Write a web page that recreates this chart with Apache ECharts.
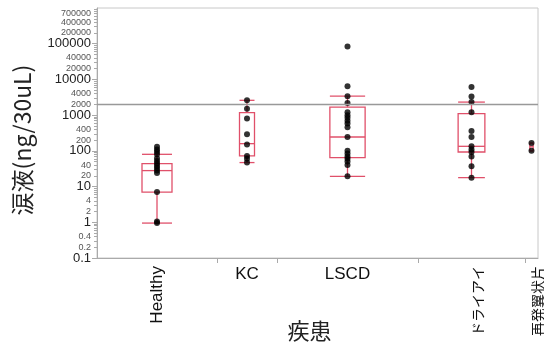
<!DOCTYPE html>
<html>
<head>
<meta charset="utf-8">
<script src="https://cdn.jsdelivr.net/npm/echarts@6/dist/echarts.min.js"></script>
<style>html,body{margin:0;padding:0;background:#fff}#c{width:544px;height:344px}</style>
</head>
<body>
<div id="c"></div>
<script>
// ---- data ----
var categories = ['Healthy', 'KC', 'LSCD', 'ドライアイ', '再発翼状片'];
var healthyValues = [130, 110, 95, 80, 62, 52, 44, 38, 33, 28, 24, 7, 1.05, 0.95];
var kcValues = [2600, 1500, 800, 290, 150, 72, 60, 47];
var lscdValues = [84000, 6400, 3400, 2200, 1200, 1000, 850, 700, 580, 460, 245, 100, 84, 70, 60, 50, 40, 19.4];
var dryEyeValues = [6100, 3350, 2320, 1200, 360, 245, 134, 110, 93, 70, 37, 17.8];
var pterygiumValues = [165, 100];
// box stats: [min whisker, Q1, median, Q3, max whisker]
var healthyBox = [0.95, 7, 28, 44, 80];
var kcBox = [47, 72, 159, 1170, 2600];
var lscdBox = [19.4, 65, 244, 1680, 3400];
var dryEyeBox = [17.8, 93, 134, 1100, 2320];
var pterygiumBox = [100, 100, 130, 165, 165];
var referenceLevel = 2000;
var majorTickLabels = [0.1, 1, 10, 100, 1000, 10000, 100000];
var minorTickLabelsA = [0.2, 2, 20, 200, 2000, 20000, 200000, 700000];
var minorTickLabelsB = [0.4, 4, 40, 400, 4000, 40000, 400000];

// ---- layout (group band widths on the x axis) ----
var groupWidths = [120, 60, 141, 107, 13];
var boxFrac = 0.25;
var boxColor = '#e0506a';

var groupValues = [healthyValues, kcValues, lscdValues, dryEyeValues, pterygiumValues];
var groupBoxes = [healthyBox, kcBox, lscdBox, dryEyeBox, pterygiumBox];

var starts = [], centers = [], acc = 0;
groupWidths.forEach(function (w) { starts.push(acc); centers.push(acc + w / 2); acc += w; });
var xMax = acc;
var boundaries = starts.slice(1);

var scatterData = [];
groupValues.forEach(function (vals, i) {
  vals.forEach(function (v) { scatterData.push([centers[i], v]); });
});
var boxData = groupBoxes.map(function (b, i) {
  return [centers[i], b[0], b[1], b[2], b[3], b[4], groupWidths[i]];
});

function nameAt(v) {
  for (var i = 0; i < centers.length; i++) if (Math.abs(centers[i] - v) < 0.01) return categories[i];
  return '';
}
function rotLabel(v) {
  var n = nameAt(v);
  return /^[\x00-\x7f]*$/.test(n) ? '{lat|' + n + '}' : '{cjk|' + n + '}';
}
var labelCentersFlat = [centers[1], centers[2]];
var labelCentersRot = [centers[0], centers[3], centers[4]];

var minorTickPos = [];
for (var d = -1; d <= 5; d++) for (var k = 1; k <= 9; k++) {
  minorTickPos.push(Math.log10(k * Math.pow(10, d)));
}
function isMajor(v) {
  return majorTickLabels.some(function (m) { return Math.abs(Math.log10(m) - v) < 1e-6; });
}
function fmtNum(v) {
  var n = Math.pow(10, v);
  var r = n < 1 ? Math.round(n * 10) / 10 : Math.round(n);
  return String(r);
}
function yFmt(v) { return isMajor(v) ? '{maj|' + fmtNum(v) + '}' : '{mn|' + fmtNum(v) + '}'; }
var yRich = {
  maj: { fontSize: 13, color: '#222', fontFamily: 'Liberation Sans' },
  mn: { fontSize: 9, color: '#555', fontFamily: 'Liberation Sans' }
};

var chart = echarts.init(document.getElementById('c'), null, { renderer: 'canvas' });
var grid = { left: 97, right: 6, top: 8, bottom: 86, show: true, borderColor: '#c8c8c8', borderWidth: 1,
  containLabel: false, outerBoundsMode: 'none' };

var option = {
  animation: false,
  backgroundColor: '#fff',
  grid: grid,
  xAxis: [
    {
      type: 'value', position: 'bottom', min: 0, max: xMax,
      axisLine: { show: true, onZero: false, lineStyle: { color: '#aaa' } },
      axisTick: { show: true, customValues: boundaries, length: 5, lineStyle: { color: '#aaa' } },
      axisLabel: { show: false }, splitLine: { show: false },
      name: '疾患', nameLocation: 'middle', nameGap: 62,
      nameTextStyle: { fontSize: 22, color: '#222', fontFamily: 'Noto Sans CJK JP', padding: [0, 16, 0, 0] }
    },
    {
      type: 'value', position: 'bottom', min: 0, max: xMax,
      axisLine: { show: false, onZero: false }, axisTick: { show: false }, splitLine: { show: false },
      axisLabel: { customValues: labelCentersFlat, formatter: nameAt, fontSize: 17, color: '#111',
        fontFamily: 'Liberation Sans', margin: 8, hideOverlap: false }
    },
    {
      type: 'value', position: 'bottom', min: 0, max: xMax,
      axisLine: { show: false, onZero: false }, axisTick: { show: false }, splitLine: { show: false },
      axisLabel: { customValues: labelCentersRot, formatter: rotLabel, rotate: 90, color: '#111',
        margin: 8, hideOverlap: false,
        rich: {
          lat: { fontSize: 17, fontFamily: 'Liberation Sans', color: '#111' },
          cjk: { fontSize: 14, fontFamily: 'Noto Sans CJK JP', color: '#111', padding: [12, 0, 0, 0] }
        } }
    }
  ],
  yAxis: [
    {
      type: 'log', logBase: 10, min: 0.1, max: 1000000, position: 'left',
      axisLine: { show: true, onZero: false, lineStyle: { color: '#aaa' } },
      axisTick: { show: false }, axisLabel: { show: false }, splitLine: { show: false },
      name: '涙液(ng/30uL)', nameLocation: 'middle', nameGap: 63,
      nameTextStyle: { fontSize: 23, color: '#222', fontFamily: 'Noto Sans CJK JP', padding: [0, 14, 0, 0] }
    },
    {
      type: 'value', min: -1, max: 6, position: 'left', offset: 0,
      axisLine: { show: false, onZero: false }, splitLine: { show: false },
      axisTick: { show: true, customValues: majorTickLabels.map(Math.log10), length: 5, lineStyle: { color: '#aaa' } },
      axisLabel: {
        customValues: majorTickLabels.concat(minorTickLabelsA).map(Math.log10), margin: 6, hideOverlap: false,
        formatter: yFmt, rich: yRich
      }
    },
    {
      type: 'value', min: -1, max: 6, position: 'left', offset: 0,
      axisLine: { show: false, onZero: false }, splitLine: { show: false },
      axisTick: { show: true, customValues: minorTickPos, length: 3, lineStyle: { color: '#aaa' } },
      axisLabel: {
        customValues: minorTickLabelsB.map(Math.log10), margin: 6, hideOverlap: false,
        formatter: yFmt, rich: yRich
      }
    }
  ],
  series: [
    {
      type: 'custom', xAxisIndex: 0, yAxisIndex: 0, data: boxData, z: 2,
      renderItem: function (params, api) {
        var cx = api.value(0), w = api.value(6) * boxFrac / 2;
        var xl = api.coord([cx - w, api.value(1)])[0];
        var xr = api.coord([cx + w, api.value(1)])[0];
        var xc = api.coord([cx, api.value(1)])[0];
        var yMin = api.coord([cx, api.value(1)])[1];
        var yQ1 = api.coord([cx, api.value(2)])[1];
        var yMed = api.coord([cx, api.value(3)])[1];
        var yQ3 = api.coord([cx, api.value(4)])[1];
        var yMax = api.coord([cx, api.value(5)])[1];
        var st = { stroke: boxColor, lineWidth: 1.3, fill: null };
        return {
          type: 'group',
          children: [
            { type: 'rect', shape: { x: xl, y: yQ3, width: xr - xl, height: yQ1 - yQ3 }, style: st },
            { type: 'line', shape: { x1: xl, y1: yMed, x2: xr, y2: yMed }, style: st },
            { type: 'line', shape: { x1: xc, y1: yQ3, x2: xc, y2: yMax }, style: st },
            { type: 'line', shape: { x1: xc, y1: yQ1, x2: xc, y2: yMin }, style: st },
            { type: 'line', shape: { x1: xl, y1: yMax, x2: xr, y2: yMax }, style: st },
            { type: 'line', shape: { x1: xl, y1: yMin, x2: xr, y2: yMin }, style: st }
          ]
        };
      }
    },
    {
      type: 'scatter', xAxisIndex: 0, yAxisIndex: 0, data: scatterData, z: 3,
      symbol: 'circle', symbolSize: 6, itemStyle: { color: '#000' },
      markLine: {
        silent: true, symbol: 'none', label: { show: false },
        lineStyle: { color: '#999', width: 1.3, type: 'solid' },
        data: [{ yAxis: referenceLevel }]
      }
    }
  ]
};
chart.setOption(option);
</script>
</body>
</html>
